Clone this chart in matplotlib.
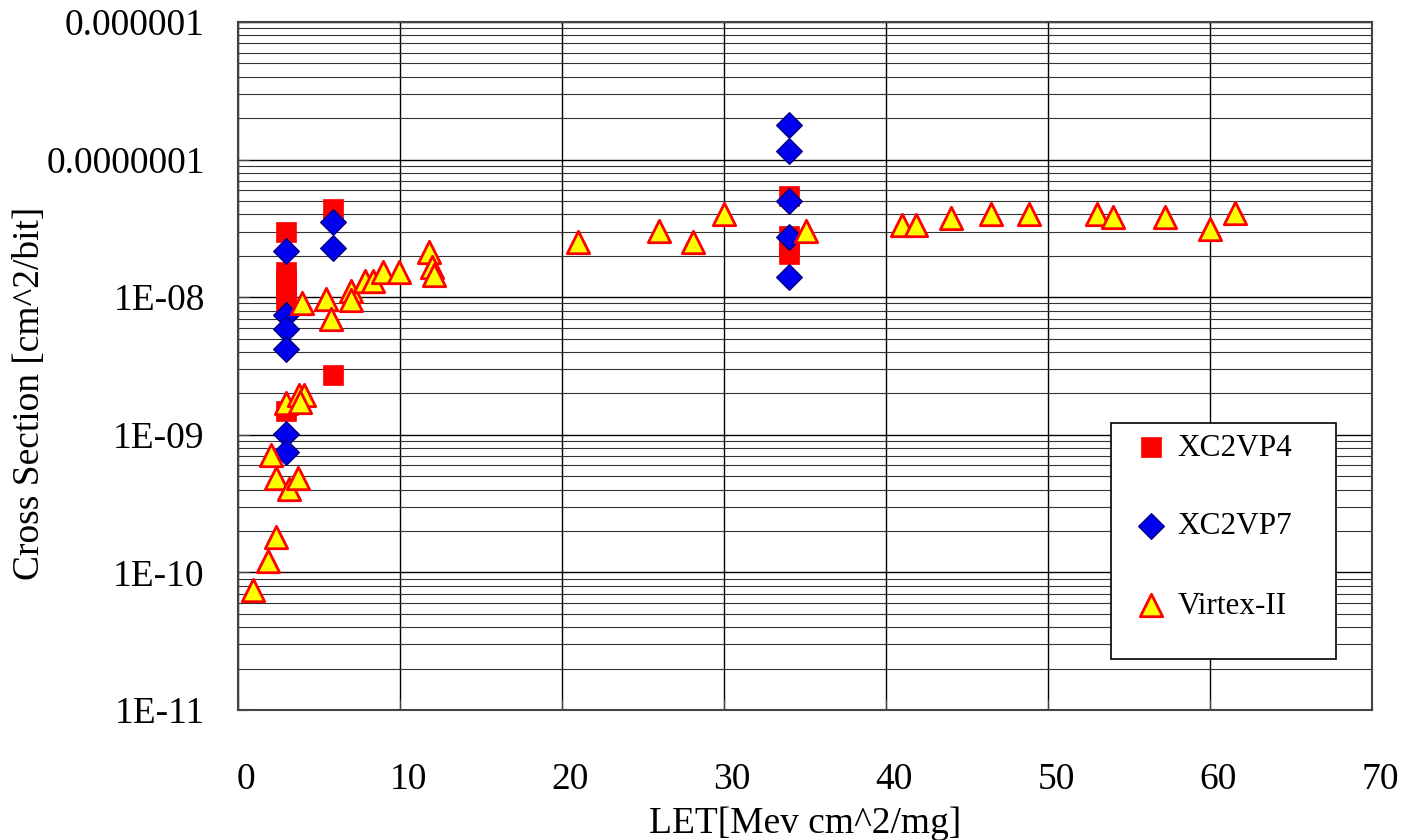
import matplotlib
matplotlib.use("Agg")
import matplotlib.pyplot as plt
import matplotlib.transforms as mtransforms
from matplotlib.patches import Rectangle

# XC2VP4 (red squares)
let_vp4 = [2.95, 2.95, 2.95, 2.95, 2.95, 2.95, 2.95, 5.85, 5.85, 34.0, 34.0, 34.0, 34.0]
xs_vp4 = [3.0e-8, 1.52e-8, 1.35e-8, 1.2e-8, 1.05e-8, 9.1e-9, 1.5e-9,
          4.4e-8, 2.72e-9, 5.47e-8, 2.8e-8, 2.4e-8, 2.05e-8]

# XC2VP7 (blue diamonds)
let_vp7 = [2.95, 2.95, 2.95, 2.95, 2.95, 2.95, 5.85, 5.85, 34.0, 34.0, 34.0, 34.0, 34.0]
xs_vp7 = [2.17e-8, 7.4e-9, 5.85e-9, 4.2e-9, 1.02e-9, 7.46e-10, 3.54e-8, 2.27e-8,
          1.78e-7, 1.16e-7, 5.0e-8, 2.75e-8, 1.41e-8]

# Virtex-II (yellow triangles)
let_v2 = [0.93, 1.83, 2.33, 2.04, 2.33, 3.15, 3.73, 2.95, 3.75, 4.1, 3.8,
          3.93, 5.42, 5.75, 6.96, 6.96, 7.85, 8.36, 8.98, 9.95, 11.76, 11.97, 12.07,
          21.0, 26.0, 28.1, 30.0, 35.04, 40.98, 41.84, 44.0, 46.5, 48.85,
          53.0, 54.04, 57.2, 60.0, 61.56]
xs_v2 = [7.5e-11, 1.22e-10, 1.82e-10, 7.1e-10, 4.83e-10, 4.02e-10, 4.83e-10, 1.71e-9,
         1.95e-9, 1.95e-9, 1.72e-9,
         9.1e-9, 9.7e-9, 7.0e-9, 1.11e-8, 9.5e-9, 1.32e-8, 1.32e-8, 1.52e-8, 1.52e-8,
         2.12e-8, 1.66e-8, 1.45e-8,
         2.53e-8, 3.03e-8, 2.53e-8, 4.05e-8, 3.03e-8, 3.35e-8, 3.35e-8, 3.74e-8,
         4.05e-8, 4.05e-8, 4.05e-8, 3.83e-8, 3.83e-8, 3.11e-8, 4.11e-8]

x_ticks = [0, 10, 20, 30, 40, 50, 60, 70]
y_ticks = [1e-11, 1e-10, 1e-9, 1e-8, 1e-7, 1e-6]
y_labels = ["1E-11", "1E-10", "1E-09", "1E-08", "0.0000001", "0.000001"]

plt.rcParams["font.family"] = ["Liberation Serif", "DejaVu Serif"]

W, H = 1405, 840
fig = plt.figure(figsize=(W / 100, H / 100), dpi=100)
ax = fig.add_axes([238 / W, 1 - 710 / H, (1372 - 238) / W, (710 - 22) / H])

ax.set_yscale("log")
ax.set_xlim(0, 70)
ax.set_ylim(1e-11, 1e-6)

ax.grid(True, which="major", color="black", linewidth=1.0, zorder=0)
ax.grid(True, which="minor", axis="y", color="#333333", linewidth=0.8, zorder=0)
ax.set_axisbelow(True)

ax.scatter(let_vp4, xs_vp4, marker="s", s=190, color="#ff0000", edgecolors="#ff0000",
           linewidths=0.5, zorder=3, label="XC2VP4")
ax.scatter(let_vp7, xs_vp7, marker="D", s=170, color="#0000ee", edgecolors="#000080",
           linewidths=1.0, zorder=3, label="XC2VP7")
ax.scatter(let_v2, xs_v2, marker="^", s=260, color="#ffff00", edgecolors="#ff0000",
           linewidths=2.0, zorder=3, label="Virtex-II")

ax.set_xticks(x_ticks)
ax.set_xticklabels([str(t) for t in x_ticks])
ax.set_yticks(y_ticks)
ax.set_yticklabels(y_labels)
ax.yaxis.set_minor_formatter(matplotlib.ticker.NullFormatter())
ax.tick_params(axis="y", which="minor", length=0)
ax.tick_params(axis="both", which="major", direction="in", length=8, color="#444444",
               labelsize=27)
ax.tick_params(axis="y", which="major", pad=24)
ax.tick_params(axis="x", which="major", pad=38)

# the original tick labels sit a little right of their gridlines
shift = mtransforms.ScaledTranslation(8 / 100, 0, fig.dpi_scale_trans)
for lab in ax.get_xticklabels():
    lab.set_transform(lab.get_transform() + shift)

for sp in ax.spines.values():
    sp.set_color("#444444")
    sp.set_linewidth(1.5)

ax.set_xlabel("LET[Mev cm^2/mg]", fontsize=27)
ax.xaxis.set_label_coords(0.5, -0.14)
ax.set_ylabel("Cross Section [cm^2/bit]", fontsize=27)
ax.yaxis.set_label_coords(-0.168, 0.46)

# legend box
box = Rectangle((1111 / W, 1 - 659 / H), 225 / W, 236 / H, transform=fig.transFigure,
                facecolor="white", edgecolor="black", linewidth=1.2, zorder=4)
fig.patches.append(box)

leg = fig.legend(loc="center left", bbox_to_anchor=(1120 / W, 1 - 527 / H),
                 frameon=False, fontsize=22.5, borderpad=0, handlelength=1.0,
                 handletextpad=0.35, labelspacing=1.6, scatterpoints=1)
leg.set_zorder(5)

fig.savefig("out.png", dpi=100)
